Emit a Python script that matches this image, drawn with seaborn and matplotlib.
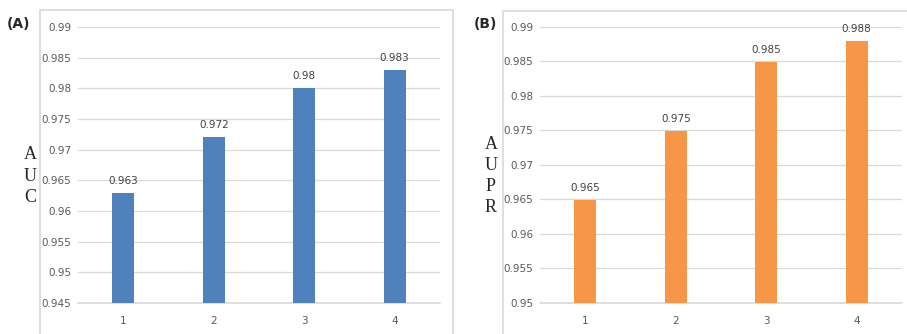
import matplotlib
matplotlib.use("Agg")
import matplotlib.pyplot as plt
import seaborn as sns
import pandas as pd
from matplotlib.patches import Rectangle
from matplotlib.ticker import FuncFormatter, MultipleLocator

# data
runs = ["1", "2", "3", "4"]
auc_values = [0.963, 0.972, 0.980, 0.983]
aupr_values = [0.965, 0.975, 0.985, 0.988]

sns.set_style("white")
plt.rcParams["font.family"] = ["Liberation Sans Narrow", "DejaVu Sans"]

W, H = 907, 334
fig = plt.figure(figsize=(W / 100, H / 100), dpi=100)


def fx(px):
    return px / W


def fy(py):
    return 1 - py / H


def draw_panel(left_px, right_px, values, color, ylim, step, tag, tag_x, letters, letters_x, box):
    ax = fig.add_axes([fx(left_px), fy(303), fx(right_px - left_px), fy(27) - fy(303)])
    df = pd.DataFrame({"run": runs, "value": values})
    sns.barplot(data=df, x="run", y="value", color=color, width=0.24,
                saturation=1, linewidth=0, ax=ax, zorder=3)
    ax.set_ylim(*ylim)
    ax.yaxis.set_major_locator(MultipleLocator(step))
    ax.yaxis.set_major_formatter(FuncFormatter(lambda v, p: f"{round(v, 4):g}"))
    ax.grid(axis="y", color="#D9D9D9", lw=0.9, zorder=0)
    ax.set_axisbelow(True)
    ax.axhline(ylim[0], color="#D9D9D9", lw=1.2, zorder=1, clip_on=False)
    for s in ax.spines.values():
        s.set_visible(False)
    ax.tick_params(axis="both", length=0, labelsize=7.5, labelcolor="#595959")
    ax.tick_params(axis="y", pad=5)
    ax.tick_params(axis="x", pad=9)
    ax.set_xlabel("")
    ax.set_ylabel("")
    ax.set_xlim(-0.5, 3.5)
    for i, v in enumerate(values):
        ax.annotate(f"{v:g}", (i, v), xytext=(0, 5), textcoords="offset points",
                    ha="center", va="bottom", fontsize=7.5, color="#404040")
    # outer frame of the panel
    bx0, by0, bx1 = box
    fig.patches.append(Rectangle((fx(bx0), -0.01), fx(bx1 - bx0), fy(by0) + 0.01,
                                 transform=fig.transFigure, fill=False,
                                 edgecolor="#D9D9D9", lw=1.2))
    fig.text(fx(tag_x), fy(24), tag, fontsize=10, fontweight="bold",
             ha="left", va="center", family=["DejaVu Sans"])
    fig.text(fx(letters_x), fy(176), "\n".join(letters), fontsize=13,
             ha="center", va="center", linespacing=1.32,
             family=["Liberation Serif", "DejaVu Serif"])
    return ax


draw_panel(78, 440, auc_values, "#4F81BD", (0.945, 0.99), 0.005,
           "(A)", 7, "AUC", 30, (40, 10, 453))
draw_panel(540, 902, aupr_values, "#F79646", (0.95, 0.99), 0.005,
           "(B)", 474, "AUPR", 491, (503, 11, 910))

fig.savefig("out.png", dpi=100)
